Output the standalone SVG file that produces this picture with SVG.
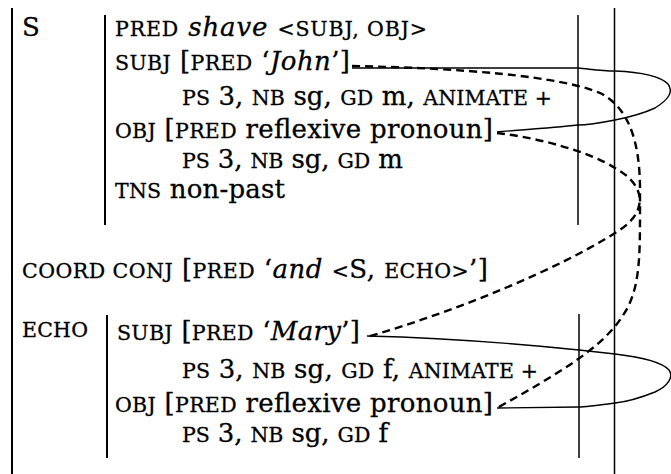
<svg xmlns="http://www.w3.org/2000/svg" width="671" height="474" viewBox="0 0 671 474">
<style>
.t{font-family:"DejaVu Serif","Liberation Serif",serif;font-size:26px;fill:#000;stroke:#000;stroke-width:0.3}
.sc{font-size:20.5px}
.it{font-style:italic}
.v{stroke:#000;fill:none}
.sol{stroke:#000;fill:none;stroke-width:1.4}
.dsh{stroke:#000;fill:none;stroke-width:2.4;stroke-dasharray:8 5}
</style>
<rect width="671" height="474" fill="#fff"/>
<g id="frame">
<line class="v" x1="12" y1="8" x2="12" y2="474" stroke-width="2"/>
<line class="v" x1="105" y1="15" x2="105" y2="225" stroke-width="2"/>
<line class="v" x1="107" y1="315" x2="107" y2="458" stroke-width="2"/>
<line class="v" x1="578" y1="15" x2="578" y2="225" stroke-width="1.5"/>
<line class="v" x1="579" y1="314" x2="579" y2="458" stroke-width="1.5"/>
<line class="v" x1="614.5" y1="8" x2="614.5" y2="474" stroke-width="1.5"/>
</g>
<g id="S">
<text class="t" x="22" y="36">S</text>
<text class="t" x="115" y="36" textLength="312" lengthAdjust="spacing"><tspan class="sc">PRED</tspan> <tspan class="it">shave</tspan> <tspan class="sc">&lt;SUBJ, OBJ&gt;</tspan></text>
<text class="t" x="115" y="70" textLength="235" lengthAdjust="spacing"><tspan class="sc">SUBJ</tspan> [<tspan class="sc">PRED</tspan> ‘<tspan class="it">John</tspan>’]</text>
<text class="t" x="182" y="105" textLength="370" lengthAdjust="spacing"><tspan class="sc">PS</tspan> 3, <tspan class="sc">NB</tspan> sg, <tspan class="sc">GD</tspan> m, <tspan class="sc">ANIMATE +</tspan></text>
<text class="t" x="115" y="138" textLength="378" lengthAdjust="spacing"><tspan class="sc">OBJ</tspan> [<tspan class="sc">PRED</tspan> reflexive pronoun]</text>
<text class="t" x="182" y="168" textLength="221" lengthAdjust="spacing"><tspan class="sc">PS</tspan> 3, <tspan class="sc">NB</tspan> sg, <tspan class="sc">GD</tspan> m</text>
<text class="t" x="115" y="198" textLength="170" lengthAdjust="spacing"><tspan class="sc">TNS</tspan> non-past</text>
</g>
<g id="COORD">
<text class="t" x="22" y="278" textLength="466" lengthAdjust="spacing"><tspan class="sc">COORD CONJ</tspan> [<tspan class="sc">PRED</tspan> ‘<tspan class="it">and</tspan> <tspan class="sc">&lt;</tspan>S, <tspan class="sc">ECHO&gt;</tspan>’]</text>
</g>
<g id="ECHO">
<text class="t sc" x="22" y="337" textLength="66" lengthAdjust="spacing">ECHO</text>
<text class="t" x="117" y="340" textLength="243" lengthAdjust="spacing"><tspan class="sc">SUBJ</tspan> [<tspan class="sc">PRED</tspan> ‘<tspan class="it">Mary</tspan>’]</text>
<text class="t" x="182" y="378" textLength="356" lengthAdjust="spacing"><tspan class="sc">PS</tspan> 3, <tspan class="sc">NB</tspan> sg, <tspan class="sc">GD</tspan> f, <tspan class="sc">ANIMATE +</tspan></text>
<text class="t" x="115" y="412" textLength="378" lengthAdjust="spacing"><tspan class="sc">OBJ</tspan> [<tspan class="sc">PRED</tspan> reflexive pronoun]</text>
<text class="t" x="182" y="442" textLength="206" lengthAdjust="spacing"><tspan class="sc">PS</tspan> 3, <tspan class="sc">NB</tspan> sg, <tspan class="sc">GD</tspan> f</text>
</g>
<g id="connectors">
<path class="sol" d="M352,68 L578,68 C590,69 600,71 615,71 C640,72 660,76 668,84 C674,92 668,100 655,108 C640,115 625,118 615,120 C600,123 585,125 578,125 C550,128 520,130 497,132"/>
<path class="dsh" d="M352,66 C460,68 560,76 600,93 C628,107 640,140 640,190 C640,250 641,280 628,307 C610,340 580,362 497,408"/>
<path class="dsh" d="M497,133 C540,138 590,152 615,168 C648,186 648,214 615,233 C560,268 460,310 367,337"/>
<path class="sol" d="M367,336 C450,338 540,346 579,350 L615,354 C640,357 662,362 669,370 C674,377 668,386 655,392 C640,398 625,402 615,403 C600,405 585,407 579,407 L497,408"/>
</g>
</svg>
